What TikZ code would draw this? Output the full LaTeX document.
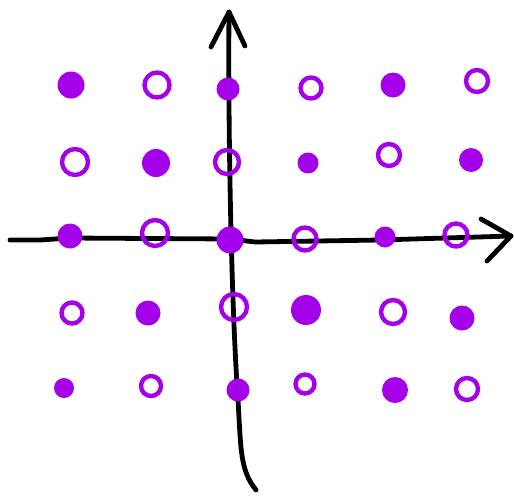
\documentclass[tikz,border=0pt]{standalone}
\definecolor{pur}{RGB}{164,0,234}
\begin{document}
\begin{tikzpicture}[x=1pt,y=-1pt,
  axis/.style={line width=4.8pt,line cap=round,line join=round,black},
  opendot/.style={circle,draw=pur,line width=4.4pt,minimum size=24pt,inner sep=0pt},
  fulldot/.style={circle,fill=pur,minimum size=27pt,inner sep=0pt},
  smalldot/.style={circle,fill=pur,minimum size=23pt,inner sep=0pt}]
\useasboundingbox (0,0) rectangle (514,496);
% axes
\coordinate (vtop) at (229,12);
\coordinate (vbot) at (256,490);
\coordinate (hl) at (10,240);
\coordinate (hr) at (511,236);
\draw[axis] (vtop) .. controls (228,120) and (231,300) .. (238,400) .. controls (241,450) and (240,470) .. (vbot);
\draw[axis] (211,47) -- (vtop) -- (245,46);
\draw[axis] (hl) -- (40,240) -- (70,238) -- (230,239) -- (255,242) -- (380,240) -- (hr);
\draw[axis] (481,219) -- (hr) -- (487,261);
% row 1
\node[fulldot] (a11) at (71,85) {};
\node[opendot,minimum size=25pt] (a12) at (157,85) {};
\node[smalldot] (a13) at (228,89) {};
\node[opendot,minimum size=21pt] (a14) at (311,88) {};
\node[fulldot,minimum size=25pt] (a15) at (393,85) {};
\node[opendot,minimum size=22pt] (a16) at (477,81) {};
% row 2
\node[opendot,minimum size=26pt] (a21) at (75,162) {};
\node[fulldot,minimum size=28pt] (a22) at (156,163) {};
\node[opendot,minimum size=24pt] (a23) at (227,162) {};
\node[smalldot,minimum size=21pt] (a24) at (308,163) {};
\node[opendot,minimum size=22pt] (a25) at (389,155) {};
\node[smalldot,minimum size=24pt] (a26) at (471,160) {};
% row 3
\node[fulldot,minimum size=25pt] (a31) at (70,236) {};
\node[opendot,minimum size=26pt] (a32) at (155,233) {};
\node[fulldot] (a33) at (230,240) {};
\node[opendot,minimum size=23pt] (a34) at (305,239) {};
\node[smalldot,minimum size=21pt] (a35) at (385,237) {};
\node[opendot,minimum size=23pt] (a36) at (456,235) {};
% row 4
\node[opendot,minimum size=21pt] (a41) at (72,313) {};
\node[fulldot,minimum size=25pt] (a42) at (148,313) {};
\node[opendot,minimum size=26pt] (a43) at (234,307) {};
\node[fulldot,minimum size=30pt] (a44) at (306,310) {};
\node[opendot,minimum size=24pt] (a45) at (393,312) {};
\node[fulldot,minimum size=25pt] (a46) at (462,318) {};
% row 5
\node[smalldot,minimum size=20pt] (a51) at (64,388) {};
\node[opendot,minimum size=20pt] (a52) at (151,386) {};
\node[smalldot] (a53) at (238,390) {};
\node[opendot,minimum size=19pt] (a54) at (305,384) {};
\node[fulldot,minimum size=26pt] (a55) at (395,390) {};
\node[opendot,minimum size=22pt] (a56) at (467,389) {};
\end{tikzpicture}
\end{document}
